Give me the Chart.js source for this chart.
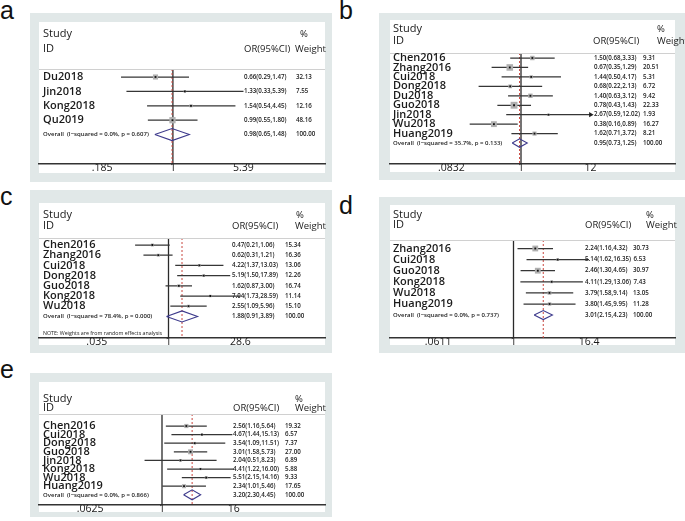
<!DOCTYPE html>
<html><head><meta charset="utf-8">
<script src="https://cdn.jsdelivr.net/npm/chart.js@4.4.1/dist/chart.umd.min.js"></script>
<style>
html,body{margin:0;padding:0;background:#fff;width:685px;height:521px;overflow:hidden;position:relative;font-family:"Open Sans",sans-serif}
.gray{position:absolute;background:#e1e8e8}
.white{position:absolute;background:#fff}
.lbl{position:absolute;font:25px "Liberation Sans",Arial,sans-serif;line-height:25px;color:#111}
canvas{position:absolute}
</style></head><body>
<script>
// ---------- Panel a ----------
const studiesA = ['Du2018','Jin2018','Kong2018','Qu2019'];
const orA      = [0.66, 1.33, 1.54, 0.99];
const lowA     = [0.29, 0.33, 0.54, 0.55];
const highA    = [1.47, 5.39, 4.45, 1.80];
const weightA  = [32.13, 7.55, 12.16, 48.16];
const overallA = [0.98, 0.65, 1.48];
const hetA     = ['0.0%', '0.607'];
const tickValuesA = [0.185, 1, 5.39];
const tickLabelsA = ['.185', '1', '5.39'];

// ---------- Panel b ----------
const studiesB = ['Chen2016','Zhang2016','Cui2018','Dong2018','Du2018','Guo2018','Jin2018','Wu2018','Huang2019'];
const orB      = [1.50, 0.67, 1.44, 0.68, 1.40, 0.78, 2.67, 0.38, 1.62];
const lowB     = [0.68, 0.35, 0.50, 0.22, 0.63, 0.43, 0.59, 0.16, 0.71];
const highB    = [3.33, 1.29, 4.17, 2.13, 3.12, 1.43, 12.02, 0.89, 3.72];
const weightB  = [9.31, 20.51, 5.31, 6.72, 9.42, 22.33, 1.93, 16.27, 8.21];
const overallB = [0.95, 0.73, 1.25];
const hetB     = ['35.7%', '0.133'];
const tickValuesB = [0.0832, 1, 12];
const tickLabelsB = ['.0832', '1', '12'];

// ---------- Panel c ----------
const studiesC = ['Chen2016','Zhang2016','Cui2018','Dong2018','Guo2018','Kong2018','Wu2018'];
const orC      = [0.47, 0.62, 4.22, 5.19, 1.62, 7.04, 2.55];
const lowC     = [0.21, 0.31, 1.37, 1.50, 0.87, 1.73, 1.09];
const highC    = [1.06, 1.21, 13.03, 17.89, 3.00, 28.59, 5.96];
const weightC  = [15.34, 16.36, 13.06, 12.26, 16.74, 11.14, 15.10];
const overallC = [1.88, 0.91, 3.89];
const hetC     = ['78.4%', '0.000'];
const tickValuesC = [0.035, 1, 28.6];
const tickLabelsC = ['.035', '1', '28.6'];
const noteC = 'NOTE: Weights are from random effects analysis';

// ---------- Panel d ----------
const studiesD = ['Zhang2016','Cui2018','Guo2018','Kong2018','Wu2018','Huang2019'];
const orD      = [2.24, 5.14, 2.46, 4.11, 3.79, 3.80];
const lowD     = [1.16, 1.62, 1.30, 1.29, 1.58, 1.45];
const highD    = [4.32, 16.35, 4.65, 13.06, 9.14, 9.95];
const weightD  = [30.73, 6.53, 30.97, 7.43, 13.05, 11.28];
const overallD = [3.01, 2.15, 4.23];
const hetD     = ['0.0%', '0.737'];
const tickValuesD = [0.0611, 1, 16.4];
const tickLabelsD = ['.0611', '1', '16.4'];

// ---------- Panel e ----------
const studiesE = ['Chen2016','Cui2018','Dong2018','Guo2018','Jin2018','Kong2018','Wu2018','Huang2019'];
const orE      = [2.56, 4.67, 3.54, 3.01, 2.04, 4.41, 5.51, 2.34];
const lowE     = [1.16, 1.44, 1.09, 1.58, 0.51, 1.22, 2.15, 1.01];
const highE    = [5.64, 15.13, 11.51, 5.73, 8.23, 16.00, 14.16, 5.46];
const weightE  = [19.32, 6.57, 7.37, 27.00, 6.89, 5.88, 9.33, 17.65];
const overallE = [3.20, 2.30, 4.45];
const hetE     = ['0.0%', '0.866'];
const tickValuesE = [0.0625, 1, 16];
const tickLabelsE = ['.0625', '1', '16'];

// ---------- layout (page pixels) ----------
const layoutA = {letter:'a', lx:0, ly:-2, gray:[30,13,302,169], white:[39,22,286,151], axis:164, row0:77, step:14.4, one:172.9, ppu:41.9,
  study:34, id:49, sep:69, nameX:43, orX:244, wX:296, hdrOR:244, hdrPct:300, hdrW:295, dh:6, boxK:0.9};
const layoutB = {letter:'b', lx:339, ly:-2, gray:[379,13,306,167], white:[390,20,285,152], axis:164, row0:58, step:9.45, one:521, ppu:28,
  study:29, id:41, sep:53, nameX:393, orX:594, wX:643, hdrOR:593, hdrPct:657, hdrW:657, dh:4.2, boxK:1.45};
const layoutC = {letter:'c', lx:0, ly:184, gray:[30,190,302,163], white:[39,203,286,142], axis:337.5, row0:245, step:10.2, one:168.5, ppu:21.4,
  study:215, id:226, sep:238, nameX:43, orX:232, wX:285, hdrOR:232, hdrPct:296, hdrW:295, dh:5.5, noteY:333, boxK:0.75};
const layoutD = {letter:'d', lx:339, ly:193, gray:[379,197,306,156], white:[390,205,285,140], axis:338, row0:248.5, step:11.1, one:513.5, ppu:27,
  study:215, id:225, sep:240, nameX:393, orX:585, wX:633, hdrOR:585, hdrPct:646, hdrW:646, dh:4.5, boxK:1.05};
const layoutE = {letter:'e', lx:0, ly:357, gray:[30,373,302,144], white:[39,382,286,130], axis:505, row0:426, step:8.6, one:162, ppu:25.9,
  study:399, id:408, sep:414, nameX:43, orX:233, wX:285, hdrOR:233, hdrPct:295, hdrW:295, dh:5, boxK:0.95};

const FONT = '"Open Sans", "Noto Sans", sans-serif';
const f2 = v => v.toFixed(2);

function makePanel(L, studies, or, low, high, weight, overall, het, tickValues, tickLabels, note) {
  const [gx, gy, gw, gh] = L.gray;
  const [wx, wy, ww, wh] = L.white;
  const g = document.createElement('div'); g.className = 'gray';
  Object.assign(g.style, {left: gx+'px', top: gy+'px', width: gw+'px', height: gh+'px'});
  document.body.appendChild(g);
  const w = document.createElement('div'); w.className = 'white';
  Object.assign(w.style, {left: wx+'px', top: wy+'px', width: ww+'px', height: wh+'px'});
  document.body.appendChild(w);
  const lb = document.createElement('div'); lb.className = 'lbl'; lb.textContent = L.letter;
  Object.assign(lb.style, {left: L.lx+'px', top: L.ly+'px'});
  document.body.appendChild(lb);
  const cv = document.createElement('canvas');
  cv.width = gw; cv.height = gh;
  Object.assign(cv.style, {left: gx+'px', top: gy+'px', width: gw+'px', height: gh+'px'});
  document.body.appendChild(cv);

  const n = studies.length;
  const yMin = -(L.row0 - wy) / L.step;
  const yMax = yMin + (L.axis - wy) / L.step;
  const sepVal = (L.sep - L.row0) / L.step;
  const xMin = Math.exp(-(L.one - wx) / L.ppu);
  const xMax = Math.exp((wx + ww - L.one) / L.ppu);
  const tickMax = tickValues[tickValues.length - 1];
  const dh = L.dh / L.step;

  const ci = [];
  studies.forEach((s, i) => { ci.push({x: low[i], y: i}, {x: high[i], y: i}, {x: low[i], y: null}); });
  const pts = studies.map((s, i) => ({x: or[i], y: i}));
  const arrows = [];
  studies.forEach((s, i) => { if (high[i] > tickMax) arrows.push({x: high[i], y: i}); });
  const diamond = [
    {x: overall[1], y: n}, {x: overall[0], y: n - dh}, {x: overall[2], y: n},
    {x: overall[0], y: n + dh}, {x: overall[1], y: n}
  ];

  const datasets = [
    {type:'line', data: arrows, showLine:false, pointStyle:'triangle', rotation:90, pointRadius:3,
      backgroundColor:'#222', borderColor:'#222', borderWidth:0, order:1},
    {type:'line', data: pts, showLine:false, pointStyle:'rect', pointRadius:1.3,
      backgroundColor:'#111', borderWidth:0, order:1},
    {type:'line', data: diamond, showLine:true, tension:0, pointRadius:0, borderColor:'#3d3a8c',
      borderWidth:1.1, fill:false, order:2},
    {type:'line', data: pts, showLine:false, pointStyle:'rect',
      pointRadius: weight.map(v => L.boxK * Math.sqrt(v) * Math.SQRT1_2),
      backgroundColor:'#b0b0b0', borderWidth:0, order:3},
    {type:'line', data: ci, showLine:true, spanGaps:false, tension:0, pointRadius:0, borderColor:'#363636',
      borderWidth:1.25, order:4},
    {type:'line', data: [{x: overall[0], y: sepVal}, {x: overall[0], y: yMax}], pointRadius:0,
      borderColor:'#c9473f', borderWidth:1, borderDash:[2,2], order:5},
    {type:'line', data: [{x: 1, y: sepVal}, {x: 1, y: yMax}], pointRadius:0,
      borderColor:'#2a2a2a', borderWidth:1.3, order:6}
  ];

  const textPlugin = {
    id: 'forestText',
    afterDraw(chart) {
      const ctx = chart.ctx, ys = chart.scales.y;
      const X = v => v - gx, Y = v => v - gy;
      ctx.save();
      ctx.strokeStyle = '#d0d0d0'; ctx.lineWidth = 1;
      ctx.beginPath(); ctx.moveTo(X(wx), Math.round(Y(L.sep)) + 0.5); ctx.lineTo(X(wx + ww), Math.round(Y(L.sep)) + 0.5); ctx.stroke();
      ctx.textBaseline = 'middle'; ctx.textAlign = 'left'; ctx.fillStyle = '#1a1a1a';
      ctx.font = '11px ' + FONT;
      ctx.fillText('Study', X(L.nameX), Y(L.study));
      ctx.fillText('ID', X(L.nameX), Y(L.id));
      ctx.font = '9.5px ' + FONT;
      ctx.fillText('%', X(L.hdrPct), Y(L.study));
      ctx.fillText('OR(95%CI)', X(L.hdrOR), Y(L.id));
      ctx.fillText('Weight', X(L.hdrW), Y(L.id));
      ctx.fillStyle = '#1a1a1a';
      studies.forEach((s, i) => {
        const y = ys.getPixelForValue(i);
        ctx.font = '600 11px ' + FONT;
        ctx.fillText(s, X(L.nameX), y);
        ctx.font = '600 6.2px ' + FONT;
        const t = f2(or[i]) + '(' + f2(low[i]) + ',' + f2(high[i]) + ')';
        ctx.fillText(t, X(L.orX), y);
        const wxPos = Math.max(X(L.wX), X(L.orX) + ctx.measureText(t).width + 2.5);
        ctx.fillText(f2(weight[i]), wxPos, y);
      });
      const yo = ys.getPixelForValue(n);
      ctx.font = '600 6px ' + FONT;
      ctx.fillText('Overall  (I\u2212squared = ' + het[0] + ', p = ' + het[1] + ')', X(L.nameX), yo);
      ctx.font = '600 6.2px ' + FONT;
      const to = f2(overall[0]) + '(' + f2(overall[1]) + ',' + f2(overall[2]) + ')';
      ctx.fillText(to, X(L.orX), yo);
      ctx.fillText('100.00', Math.max(X(L.wX), X(L.orX) + ctx.measureText(to).width + 2.5), yo);
      if (note) {
        ctx.font = '5.3px ' + FONT;
        ctx.fillText(note, X(L.nameX), Y(L.noteY));
      }
      ctx.restore();
    }
  };

  new Chart(cv, {
    type: 'scatter',
    data: {datasets},
    options: {
      responsive: false, animation: false, events: [],
      layout: {padding: {left: wx - gx, right: (gx + gw) - (wx + ww), top: wy - gy, bottom: 0}},
      plugins: {legend: {display: false}, tooltip: {enabled: false}},
      scales: {
        x: {
          type: 'logarithmic', position: 'bottom', min: xMin, max: xMax, bounds: 'data',
          afterBuildTicks: s => { s.ticks = tickValues.map(v => ({value: v})); },
          afterFit: s => { s.height = gh - (L.axis - gy); },
          ticks: {autoSkip: false, maxRotation: 0, minRotation: 0, padding: -2, color: '#1a1a1a',
            font: {family: FONT, size: 10.5}, callback: (v, i) => tickLabels[i]},
          grid: {display: false, drawTicks: false},
          border: {display: true, color: '#333', width: 1.5}
        },
        y: {type: 'linear', display: false, reverse: true, min: yMin, max: yMax}
      }
    },
    plugins: [textPlugin]
  });
}

function drawAll() {
  makePanel(layoutA, studiesA, orA, lowA, highA, weightA, overallA, hetA, tickValuesA, tickLabelsA);
  makePanel(layoutB, studiesB, orB, lowB, highB, weightB, overallB, hetB, tickValuesB, tickLabelsB);
  makePanel(layoutC, studiesC, orC, lowC, highC, weightC, overallC, hetC, tickValuesC, tickLabelsC, noteC);
  makePanel(layoutD, studiesD, orD, lowD, highD, weightD, overallD, hetD, tickValuesD, tickLabelsD);
  makePanel(layoutE, studiesE, orE, lowE, highE, weightE, overallE, hetE, tickValuesE, tickLabelsE);
}
Promise.all([document.fonts.load('11px "Open Sans"'), document.fonts.load('600 11px "Open Sans"')])
  .then(drawAll, drawAll);
</script>
</body></html>
